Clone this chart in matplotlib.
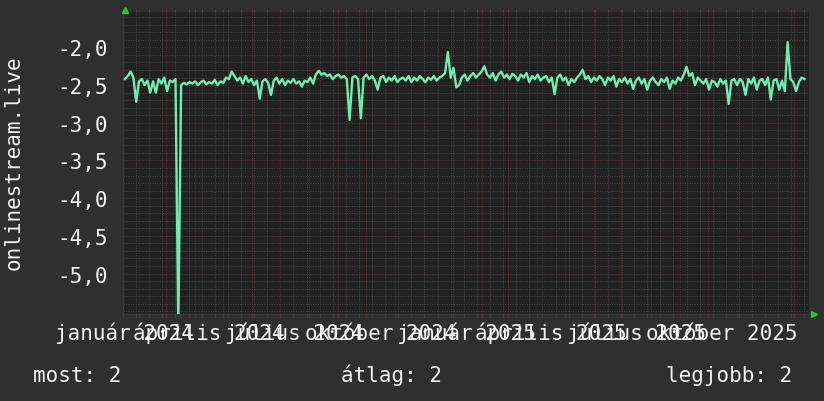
import numpy as np
import pandas as pd
import matplotlib
matplotlib.use('Agg')
import matplotlib.pyplot as plt
import matplotlib.dates as mdates
from matplotlib.ticker import MultipleLocator, FuncFormatter
from matplotlib.transforms import blended_transform_factory

# data, one value every 3 days
start = '2024-01-17'
values = [
    -2.42, -2.38, -2.32, -2.40, -2.72, -2.45, -2.42, -2.50, -2.44, -2.60,
    -2.45, -2.60, -2.42, -2.48, -2.40, -2.58, -2.44, -2.46, -2.42, -5.70,
    -2.50, -2.47, -2.49, -2.46, -2.48, -2.45, -2.50, -2.46, -2.44, -2.49,
    -2.46, -2.48, -2.43, -2.50, -2.45, -2.47, -2.40, -2.42, -2.32, -2.38,
    -2.44, -2.40, -2.48, -2.38, -2.46, -2.42, -2.50, -2.44, -2.68, -2.45,
    -2.42, -2.47, -2.63, -2.44, -2.40, -2.48, -2.42, -2.50, -2.44, -2.47,
    -2.42, -2.48, -2.45, -2.52, -2.44, -2.46, -2.40, -2.48, -2.36, -2.31,
    -2.36, -2.34, -2.38, -2.36, -2.42, -2.38, -2.36, -2.40, -2.38, -2.42,
    -2.96, -2.40, -2.38, -2.42, -2.94, -2.40, -2.36, -2.42, -2.38, -2.44,
    -2.56, -2.40, -2.38, -2.46, -2.40, -2.44, -2.38, -2.46, -2.42, -2.40,
    -2.44, -2.38, -2.46, -2.40, -2.44, -2.38, -2.42, -2.46, -2.40, -2.43,
    -2.38, -2.44, -2.40, -2.38, -2.34, -2.06, -2.40, -2.27, -2.53, -2.50,
    -2.40, -2.36, -2.44, -2.38, -2.34, -2.40, -2.36, -2.32, -2.25, -2.36,
    -2.40, -2.34, -2.44, -2.36, -2.32, -2.40, -2.36, -2.42, -2.35, -2.38,
    -2.44, -2.36, -2.40, -2.34, -2.46, -2.38, -2.42, -2.36, -2.44, -2.40,
    -2.38, -2.46, -2.40, -2.62, -2.40, -2.36, -2.44, -2.40, -2.50, -2.42,
    -2.46, -2.40, -2.36, -2.30, -2.42, -2.38, -2.46, -2.40, -2.44, -2.38,
    -2.42, -2.50, -2.40, -2.44, -2.38, -2.52, -2.42, -2.46, -2.40, -2.48,
    -2.42, -2.55, -2.44, -2.40, -2.48, -2.42, -2.56, -2.44, -2.40, -2.46,
    -2.50, -2.42, -2.46, -2.40, -2.55, -2.44, -2.48, -2.40, -2.44, -2.36,
    -2.26, -2.38, -2.34, -2.50, -2.40, -2.44, -2.48, -2.42, -2.56, -2.44,
    -2.46, -2.52, -2.42, -2.48, -2.44, -2.75, -2.44, -2.42, -2.50, -2.42,
    -2.46, -2.63, -2.42, -2.48, -2.40, -2.56, -2.44, -2.42, -2.50, -2.40,
    -2.69, -2.44, -2.42, -2.56, -2.44, -2.58, -1.93, -2.42, -2.46, -2.58,
    -2.46, -2.40, -2.42,
]
x_labels = ['január 2024', 'április 2024', 'július 2024', 'október 2024',
            'január 2025', 'április 2025', 'július 2025', 'október 2025']
x_label_dates = ['2024-01-16', '2024-04-16', '2024-07-16', '2024-10-16',
                 '2025-01-16', '2025-04-16', '2025-07-16', '2025-10-16']
y_ticks = [-5.0, -4.5, -4.0, -3.5, -3.0, -2.5, -2.0]
y_title = 'onlinestream.live'
legend_items = ['most: 2', 'átlag: 2', 'legjobb: 2']

dates = pd.date_range(start, periods=len(values), freq='3D')

bg = '#2f2f2f'
plot_bg = '#212121'
minor_c = '#4a4a4a'
major_c = '#6a3030'
line_c = '#70eeb0'
text_c = '#f2f2f2'

plt.rcParams['font.family'] = ['DejaVu Sans Mono']
plt.rcParams['font.size'] = 15

W, H = 824, 402
fig = plt.figure(figsize=(W / 100, H / 100), dpi=100, facecolor=bg)
ax = fig.add_axes([123 / W, (H - 315) / H, (809 - 123) / W, (315 - 13) / H])
ax.set_facecolor(plot_bg)

ax.plot(dates, values, color=line_c, lw=1.7, zorder=3)

ax.set_xlim(pd.Timestamp('2024-01-14 22:00'), pd.Timestamp('2026-01-16 20:00'))
ax.set_ylim(-5.537, -1.53)

ax.xaxis.set_major_locator(mdates.MonthLocator())
ax.xaxis.set_minor_locator(mdates.WeekdayLocator(byweekday=mdates.MO, interval=2))
ax.yaxis.set_major_locator(MultipleLocator(0.5))
ax.yaxis.set_minor_locator(MultipleLocator(0.1))
ax.set_yticks(y_ticks)
ax.yaxis.set_major_formatter(FuncFormatter(lambda v, p: f'{v:.1f}'.replace('.', ',')))
ax.xaxis.set_major_formatter(FuncFormatter(lambda v, p: ''))

ax.grid(which='minor', color=minor_c, lw=0.7, ls=(0, (1.0, 1.5)), zorder=1)
ax.grid(which='major', color=major_c, lw=0.7, ls=(0, (1.0, 1.5)), zorder=2)

ax.tick_params(axis='x', which='both', direction='out', length=2.5, top=True,
               labelbottom=False)
ax.tick_params(axis='x', which='major', color=major_c)
ax.tick_params(axis='x', which='minor', color=minor_c)
ax.tick_params(axis='y', which='both', length=0, pad=11, labelcolor=text_c)

for side in ['top', 'right']:
    ax.spines[side].set_visible(False)
for side in ['left', 'bottom']:
    ax.spines[side].set_color('#3a3a3a')
    ax.spines[side].set_linewidth(1.0)

# month labels, centred mid-month as rrdtool draws them
tr = blended_transform_factory(ax.transData, fig.transFigure)
for lab, d in zip(x_labels, x_label_dates):
    ax.text(mdates.date2num(pd.Timestamp(d)), 1 - 340 / H, lab, transform=tr,
            ha='center', va='baseline', color=text_c, clip_on=False)

fig.text(14 / W, 1 - 163 / H, y_title, rotation=90, ha='center', va='center',
         color=text_c)

fig.text(33 / W, 1 - 382 / H, legend_items[0], ha='left', va='baseline', color=text_c)
fig.text(341 / W, 1 - 382 / H, legend_items[1], ha='left', va='baseline', color=text_c)
fig.text(792 / W, 1 - 382 / H, legend_items[2], ha='right', va='baseline', color=text_c)

# green arrow heads at the axis ends
fig.lines.append(plt.Line2D([125 / W], [1 - 11 / H], marker='^', ms=5, color='#22cc22',
                            mec='#22cc22', transform=fig.transFigure))
fig.lines.append(plt.Line2D([813.5 / W], [1 - 315 / H], marker='>', ms=5, color='#22cc22',
                            mec='#22cc22', transform=fig.transFigure))

fig.savefig('out.png', dpi=100, facecolor=bg)
